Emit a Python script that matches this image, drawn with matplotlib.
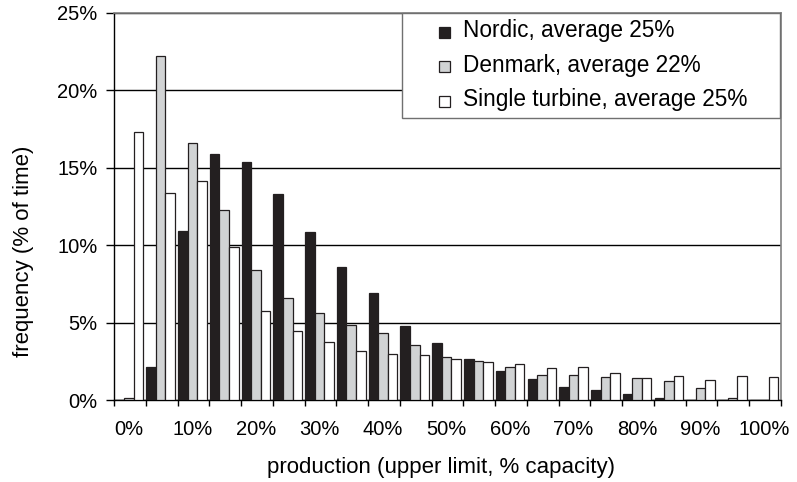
import matplotlib
matplotlib.use("Agg")
import matplotlib.pyplot as plt
import numpy as np
from matplotlib.patches import Rectangle
from matplotlib.legend_handler import HandlerPatch

plt.rcParams['font.family'] = ['Liberation Sans', 'DejaVu Sans']

# production bins (upper limit, % capacity), one per 5 %
bins = [0, 5, 10, 15, 20, 25, 30, 35, 40, 45, 50, 55, 60, 65, 70, 75, 80, 85, 90, 95, 100]
nordic = [0, 2.15, 10.9, 15.9, 15.37, 13.33, 10.83, 8.59, 6.91, 4.76, 3.65,
          2.65, 1.89, 1.33, 0.86, 0.67, 0.39, 0.13, 0, 0, 0]
denmark = [0.1, 22.2, 16.6, 12.3, 8.37, 6.61, 5.6, 4.84, 4.31, 3.53, 2.80,
           2.52, 2.15, 1.59, 1.59, 1.51, 1.4, 1.2, 0.78, 0.13, 0]
single = [17.29, 13.4, 14.15, 9.86, 5.77, 4.48, 3.75, 3.19, 2.99, 2.88, 2.63,
          2.43, 2.35, 2.07, 2.15, 1.77, 1.4, 1.57, 1.31, 1.57, 1.49]
series_labels = ["Nordic, average 25%", "Denmark, average 22%", "Single turbine, average 25%"]
series_colors = ["#231f20", "#d1d3d4", "#ffffff"]
y_ticks = [0, 5, 10, 15, 20, 25]

fig = plt.figure(figsize=(7.97, 4.82), dpi=100)
ax = fig.add_axes([114/797, 1-400/482, (781-114)/797, (400-13)/482])

n = len(bins)
idx = np.arange(n)
w = 0.3
edge = "#231f20"
handles = []
for k, (vals, col, lab) in enumerate(zip([nordic, denmark, single], series_colors, series_labels)):
    b = ax.bar(idx + 0.17 + k * w, vals, width=w, color=col, edgecolor=edge,
               linewidth=0.9, label=lab, zorder=3)
    handles.append(b)

ax.set_xlim(0, n)
ax.set_ylim(0, 25)

ax.set_yticks(y_ticks)
ax.set_yticklabels([f"{v}%" for v in y_ticks], fontsize=14.5)
ax.yaxis.grid(True, color="black", linewidth=1.0, zorder=0)
ax.set_axisbelow(True)
ax.tick_params(axis='y', direction='out', length=6, width=1, pad=6, color='black')

ax.set_xticks(np.arange(0, n + 1))
ax.set_xticklabels([])
ax.tick_params(axis='x', which='major', direction='out', length=4, width=1, color='black')
ax.set_xticks(idx[::2] + 0.47, minor=True)
ax.set_xticklabels([f"{b}%" for b in bins[::2]], minor=True, fontsize=14.5)
ax.tick_params(axis='x', which='minor', length=0, pad=14.5)

for s in ['left', 'bottom']:
    ax.spines[s].set_color('black')
    ax.spines[s].set_linewidth(1.0)
for s in ['top', 'right']:
    ax.spines[s].set_color('#808080')
    ax.spines[s].set_linewidth(1.2)

fig.text(24/797, 1-251/482, "frequency (% of time)", rotation=90, ha='center', va='center', fontsize=16)
fig.text(441/797, 1-467/482, "production (upper limit, % capacity)", ha='center', va='center', fontsize=16)


def make_square(legend, orig_handle, xdescent, ydescent, width, height, fontsize):
    s = 0.49 * fontsize
    return Rectangle((width - xdescent - s, -0.02 * fontsize), s, s)


x0 = (402 - 114) / 667
leg = ax.legend(handles=[h.patches[0] for h in handles], labels=series_labels,
                loc='upper left', bbox_to_anchor=(x0, 0, 1 - x0 - 0.001, 1.0), mode='expand',
                borderaxespad=0, fontsize=16.3, fancybox=False, framealpha=1,
                edgecolor='#707070', handlelength=1.845, handletextpad=0.575,
                borderpad=0.28, labelspacing=0.51,
                handler_map={Rectangle: HandlerPatch(patch_func=make_square)})
leg.get_frame().set_linewidth(1.0)
leg.set_zorder(5)

fig.savefig("out.png", dpi=100)
